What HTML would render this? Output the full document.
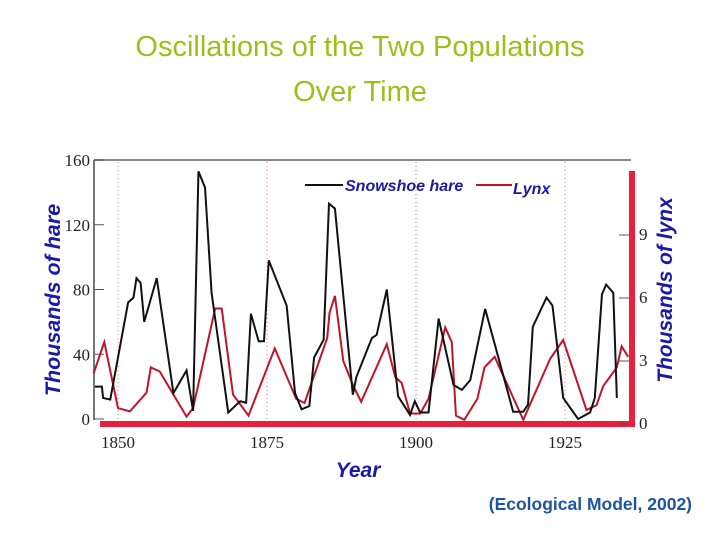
<!DOCTYPE html>
<html><head><meta charset="utf-8"><style>
body{margin:0;background:#fff;width:720px;height:540px;overflow:hidden;font-family:"Liberation Sans",sans-serif}
svg{position:absolute;left:0;top:0}
</style></head><body>
<svg id="c" width="720" height="540">
<text x="360" y="56" text-anchor="middle" font-size="29" fill="#9cbf1e">Oscillations of the Two Populations</text>
<text x="360" y="101" text-anchor="middle" font-size="29" fill="#9cbf1e">Over Time</text>
<text x="692" y="510" text-anchor="end" font-size="17.5" font-weight="bold" fill="#1c55a0">(Ecological Model, 2002)</text>
</svg>
<script>
const hareYears=[1846.1,1847.3,1847.5,1848.7,1851.7,1852.6,1853.1,1853.8,1854.4,1856.5,1859.3,1861.5,1862.6,1863.5,1864.6,1865.7,1868.5,1870.5,1871.5,1872.3,1873.6,1874.5,1875.3,1878.3,1879.7,1880.8,1882.1,1882.9,1884.5,1885.4,1886.4,1889.4,1890.0,1892.6,1893.4,1895.1,1897.0,1899.0,1899.8,1900.7,1902.1,1903.8,1906.3,1907.7,1909.1,1911.6,1916.3,1918.0,1918.8,1919.6,1921.9,1922.9,1924.7,1927.2,1929.2,1930.0,1931.2,1931.9,1933.1,1933.7];
const hareValues=[20,20,13,12,72,75,87,84,60,87,16,30,5,153,143,78,4,11,10,65,48,48,98,70,16,6,8,38,49,133,130,15,26,50,52,80,14,2.5,11,4,4,62,21,18,24,68,4.5,4.5,9,57,75,70,13,0,4,13,77,83,78,13];
const lynxYears=[1845.9,1847.7,1850,1852,1854.8,1855.5,1857,1861.5,1862.6,1866.3,1867.4,1869.3,1871.9,1876.3,1879.9,1881.3,1885.1,1885.5,1886.4,1887.8,1889.5,1890.8,1895.1,1896.5,1897.6,1899,1900.7,1902.1,1904.9,1906.0,1906.7,1908.1,1910.3,1911.5,1913.2,1918.0,1922.5,1924.7,1928.6,1930.3,1931.4,1933.7,1934.5,1935.6];
const lynxValues=[2.4,3.9,0.76,0.6,1.5,2.7,2.5,0.35,0.76,5.5,5.5,1.4,0.4,3.6,1.2,1.0,4.1,5.3,6.1,3.0,1.8,1.06,3.8,2.25,1.95,0.5,0.5,1.2,4.6,3.9,0.4,0.2,1.2,2.7,3.2,0.2,3.1,4.0,0.67,0.9,1.8,2.7,3.7,3.2];
const hareTicks=[0,40,80,120,160];
const lynxTicks=[0,3,6,9];
const yearTicks=[1850,1875,1900,1925];
const X=y=>118+(y-1850)*5.96;
const YH=v=>419-v*259/160;
const YL=v=>424-v*21;
const svg=document.getElementById('c');
const NS='http://www.w3.org/2000/svg';
function mk(t,a,txt){const e=document.createElementNS(NS,t);for(const k in a)e.setAttribute(k,a[k]);if(txt!==undefined)e.textContent=txt;svg.appendChild(e);return e;}
let e;
yearTicks.forEach(y=>{
 e=mk('line',{x1:X(y),x2:X(y),y1:162,y2:420,stroke:'#d08080','stroke-width':1,'stroke-dasharray':'1,3'});
 
 
 e=mk('text',{x:X(y),y:448,'text-anchor':'middle','font-size':17,'font-family':'Liberation Serif',fill:'#222'},String(y));
 
 
});
e=mk('line',{x1:94,x2:631,y1:160,y2:160,stroke:'#888','stroke-width':2});


e=mk('line',{x1:94,x2:94,y1:160,y2:420,stroke:'#777','stroke-width':2});


e=mk('rect',{x:100,y:421,width:535,height:6,fill:'#e8203c'});


e=mk('rect',{x:629,y:171,width:6,height:256,fill:'#e8203c'});


hareTicks.forEach(v=>{
 e=mk('line',{x1:94,x2:104,y1:YH(v),y2:YH(v),stroke:'#555'});
 
 
 e=mk('text',{x:90,y:YH(v)+6,'text-anchor':'end','font-size':17,'font-family':'Liberation Serif',fill:'#222'},String(v));
 
 
});
lynxTicks.forEach(v=>{
 e=mk('line',{x1:619,x2:629,y1:YL(v),y2:YL(v),stroke:'#555'});
 
 
 e=mk('text',{x:639,y:YL(v)+5,'font-size':17,'font-family':'Liberation Serif',fill:'#222'},String(v));
 
 
});
e=mk('polyline',{points:lynxYears.map((y,i)=>X(y)+','+YL(lynxValues[i])).join(' '),fill:'none',stroke:'#c0142a','stroke-width':2});


e=mk('polyline',{points:hareYears.map((y,i)=>X(y)+','+YH(hareValues[i])).join(' '),fill:'none',stroke:'#111','stroke-width':2});


e=mk('line',{x1:305,x2:343,y1:185,y2:185,stroke:'#111','stroke-width':2});


e=mk('text',{x:345,y:191,'font-size':16,'font-weight':'bold','font-style':'italic',fill:'#1a1aa8'},'Snowshoe hare');


e=mk('line',{x1:476,x2:512,y1:185,y2:185,stroke:'#c0142a','stroke-width':2});


e=mk('text',{x:513,y:194,'font-size':16,'font-weight':'bold','font-style':'italic',fill:'#1a1aa8'},'Lynx');


e=mk('text',{x:0,y:0,transform:'translate(60,300) rotate(-90)','text-anchor':'middle','font-size':21.5,'font-weight':'bold','font-style':'italic',fill:'#1a1aa8'},'Thousands of hare');


e=mk('text',{x:0,y:0,transform:'translate(672,290) rotate(-90)','text-anchor':'middle','font-size':21,'font-weight':'bold','font-style':'italic',fill:'#1a1aa8'},'Thousands of lynx');


e=mk('text',{x:358,y:477,'text-anchor':'middle','font-size':21,'font-weight':'bold','font-style':'italic',fill:'#1a1aa8'},'Year');


</script>
</body></html>
